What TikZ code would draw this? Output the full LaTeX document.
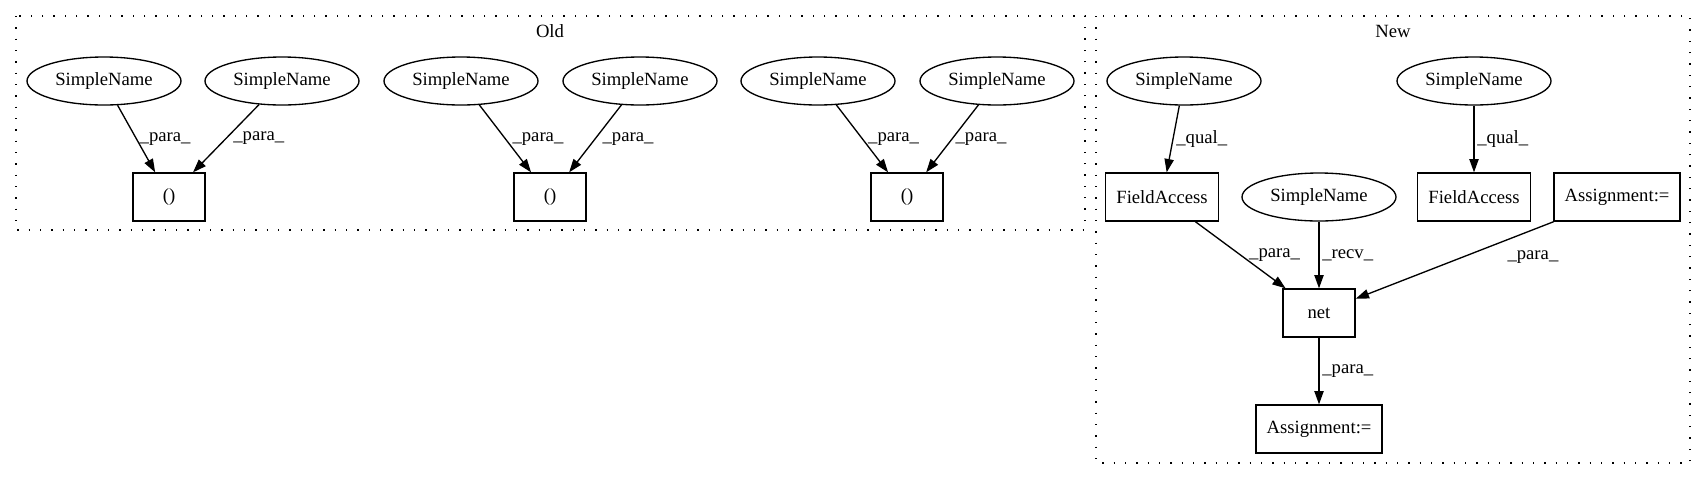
\documentclass[tikz,border=0pt]{standalone}
\usepackage{fontspec}
\setmainfont{Liberation Serif}
\usetikzlibrary{arrows.meta,shapes.geometric}

\begin{document}
\begin{tikzpicture}[x=0.75pt, y=-0.75pt,
  sname/.style={draw, ellipse, line width=1pt, font=\fontsize{14}{16}\selectfont, minimum width=115.5pt, minimum height=36pt, inner sep=0pt},
  box/.style={draw, line width=1pt, font=\fontsize{14}{16}\selectfont, minimum width=54pt, minimum height=36pt, inner xsep=8pt, inner ysep=0pt},
  arr/.style={-{Triangle[length=10pt, width=7pt]}, line width=1pt},
  lab/.style={font=\fontsize{14}{16}\selectfont, right, inner sep=2pt},
  clus/.style={line width=1pt, dash pattern=on 1pt off 7.5pt},
  ttl/.style={font=\fontsize{14}{16}\selectfont, inner sep=0pt}]
\useasboundingbox (0,0) rectangle (1707,480);
\draw[clus] (16,16) rectangle (1085,230);
\draw[clus] (1096,16) rectangle (1690,463);
\node[ttl] (oldttl) at (550,31) {Old};
\node[ttl] (newttl) at (1393,31) {New};
\node[sname] (sa) at (104,81) {SimpleName};
\node[sname] (sb) at (282,81) {SimpleName};
\node[box] (pa) at (169,197) {()};
\node[sname] (sc) at (461,81) {SimpleName};
\node[sname] (sd) at (640,81) {SimpleName};
\node[box] (pb) at (550,197) {()};
\node[sname] (se) at (818,81) {SimpleName};
\node[sname] (sf) at (997,81) {SimpleName};
\node[box] (pc) at (907,197) {()};
\node[sname] (qa) at (1184,81) {SimpleName};
\node[box] (fa) at (1162,197) {FieldAccess};
\node[sname] (rv) at (1319,197) {SimpleName};
\node[sname] (qb) at (1474,81) {SimpleName};
\node[box] (fb) at (1474,197) {FieldAccess};
\node[box] (asa) at (1617,197) {Assignment:=};
\node[box] (net) at (1319,313) {net};
\node[box] (asb) at (1319,429) {Assignment:=};
\draw[arr] (sa) -- node[lab]{\_para\_} (pa);
\draw[arr] (sb) -- node[lab, xshift=3pt]{\_para\_} (pa);
\draw[arr] (sc) -- node[lab, xshift=3pt]{\_para\_} (pb);
\draw[arr] (sd) -- node[lab, xshift=3pt]{\_para\_} (pb);
\draw[arr] (se) -- node[lab, xshift=2pt]{\_para\_} (pc);
\draw[arr] (sf) -- node[lab]{\_para\_} (pc);
\draw[arr] (qa) -- node[lab]{\_qual\_} (fa);
\draw[arr] (qb) -- node[lab]{\_qual\_} (fb);
\draw[arr] (fa) -- node[lab, xshift=4pt]{\_para\_} (net);
\draw[arr] (rv) -- node[lab]{\_recv\_} (net);
\draw[arr] (asa) -- node[lab, pos=0.25, yshift=-12pt]{\_para\_} (net);
\draw[arr] (net) -- node[lab]{\_para\_} (asb);
\end{tikzpicture}
\end{document}
